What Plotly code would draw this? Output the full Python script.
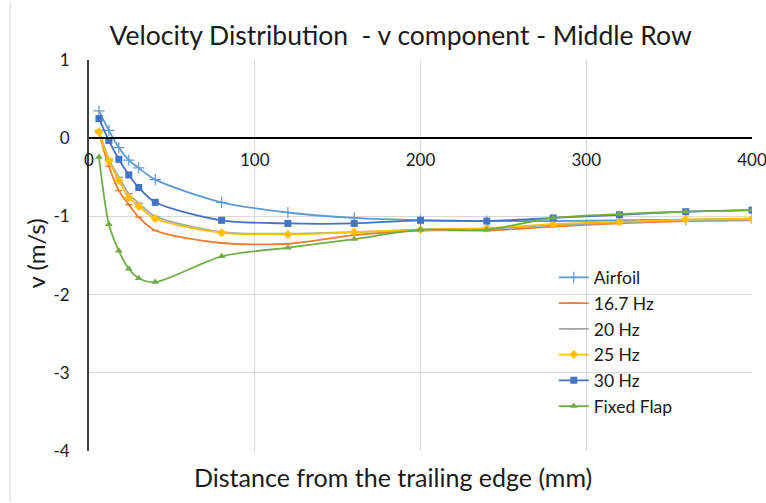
import plotly.graph_objects as go

# Distance from the trailing edge (mm)
distance = [6, 12, 18, 24, 30, 40, 80, 120, 160, 200, 240, 280, 320, 360, 400]

# v component (m/s) for each case
airfoil = [0.35, 0.10, -0.12, -0.28, -0.38, -0.53, -0.82, -0.95, -1.02, -1.05, -1.06, -1.06, -1.05, -1.04, -1.03]
hz_16_7 = [0.07, -0.36, -0.67, -0.85, -1.01, -1.18, -1.34, -1.35, -1.24, -1.18, -1.18, -1.13, -1.09, -1.06, -1.05]
hz_20 = [0.10, -0.27, -0.50, -0.71, -0.83, -1.00, -1.20, -1.22, -1.20, -1.17, -1.16, -1.11, -1.08, -1.05, -1.04]
hz_25 = [0.08, -0.29, -0.54, -0.76, -0.87, -1.03, -1.21, -1.23, -1.20, -1.17, -1.15, -1.10, -1.07, -1.04, -1.03]
hz_30 = [0.25, -0.03, -0.27, -0.47, -0.63, -0.82, -1.05, -1.09, -1.09, -1.05, -1.06, -1.02, -0.98, -0.94, -0.92]
fixed_flap = [-0.24, -1.10, -1.44, -1.67, -1.79, -1.84, -1.51, -1.40, -1.29, -1.17, -1.17, -1.02, -0.97, -0.94, -0.92]

x_ticks = [0, 100, 200, 300, 400]
y_ticks = [1, 0, -1, -2, -3, -4]

series = [
    ("Airfoil", airfoil, "#5B9BD5", dict(symbol="cross-thin", size=8, line=dict(width=1.2, color="#5B9BD5"))),
    ("16.7 Hz", hz_16_7, "#ED7D31", dict(symbol="line-ew", size=5, line=dict(width=1.5, color="#ED7D31"))),
    ("20 Hz", hz_20, "#A5A5A5", dict(symbol="line-ew", size=6, line=dict(width=1.5, color="#A5A5A5"))),
    ("25 Hz", hz_25, "#FFC000", dict(symbol="diamond", size=7)),
    ("30 Hz", hz_30, "#4472C4", dict(symbol="square", size=7)),
    ("Fixed Flap", fixed_flap, "#70AD47", dict(symbol="triangle-up", size=7)),
]

FONT = "Lato, Liberation Sans, sans-serif"

fig = go.Figure()
for name, vals, color, marker in series:
    fig.add_trace(go.Scatter(
        x=distance, y=vals, name=name, mode="lines+markers",
        line=dict(color=color, width=1.8, shape="spline", smoothing=0.8),
        marker=dict(color=color, **marker),
    ))

fig.update_layout(
    width=766, height=503,
    margin=dict(l=89, r=14, t=60, b=52, autoexpand=False),
    paper_bgcolor="white", plot_bgcolor="white",
    font=dict(family=FONT, size=16, color="#000000"),
    title=dict(text="Velocity Distribution  - v component - Middle Row",
               x=0.523, xanchor="center", y=0.928, yanchor="middle",
               font=dict(family=FONT, size=26.5, color="#1a1a1a")),
    showlegend=True,
    legend=dict(x=0.701, xanchor="left", y=0.49, yanchor="top",
                bgcolor="rgba(0,0,0,0)", font=dict(family=FONT, size=17.5, color="#1a1a1a"),
                itemwidth=30, tracegroupgap=0),
    xaxis=dict(range=[0, 400], tickvals=x_ticks, ticktext=[str(t) for t in x_ticks],
               showgrid=True, gridcolor="#D9D9D9", gridwidth=1,
               showline=True, linecolor="#000000", linewidth=2,
               anchor="free", position=0.8, ticks="", ticklen=0, automargin=False,
               ticklabeloverflow="allow", ticklabelstandoff=6,
               tickfont=dict(family=FONT, size=17, color="#1a1a1a"), zeroline=False),
    yaxis=dict(range=[-4, 1], tickvals=y_ticks, ticktext=[str(t) for t in y_ticks],
               showgrid=True, gridcolor="#D9D9D9", gridwidth=1,
               showline=True, linecolor="#404040", linewidth=2, automargin=False,
               ticks="", ticklabelstandoff=14,
               tickfont=dict(family=FONT, size=17, color="#1a1a1a"), zeroline=False),
    annotations=[
        dict(text="Distance from the trailing edge (mm)", xref="paper", yref="paper",
             x=0.4585, y=-0.067, xanchor="center", yanchor="middle", showarrow=False,
             font=dict(family=FONT, size=25, color="#1a1a1a")),
        dict(text="v (m/s)", xref="paper", yref="paper", textangle=-90,
             x=-0.08, y=0.505, xanchor="center", yanchor="middle", showarrow=False,
             font=dict(family=FONT, size=24, color="#1a1a1a")),
    ],
    shapes=[dict(type="line", xref="paper", yref="paper", x0=-0.119, x1=-0.119,
                 y0=-0.13, y1=1.15, line=dict(color="#D6D6D6", width=1))],
)

fig.write_html("out.html")
